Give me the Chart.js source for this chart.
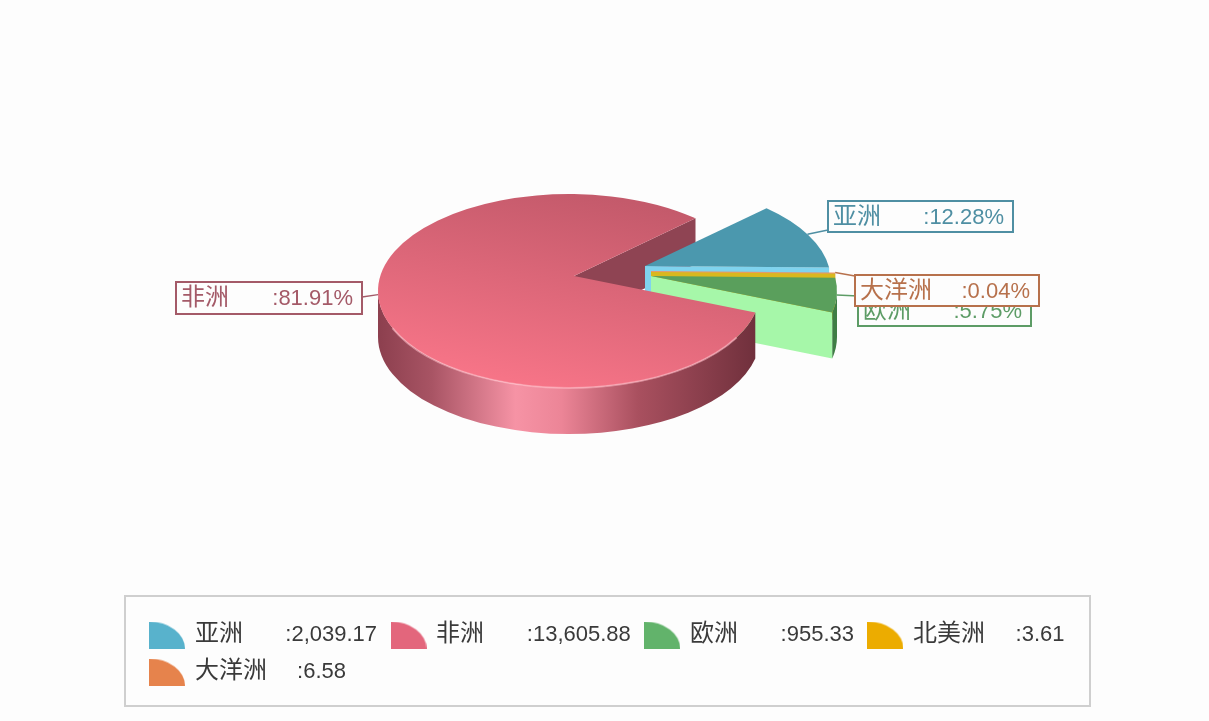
<!DOCTYPE html>
<html>
<head>
<meta charset="utf-8">
<title>各洲占比</title>
<script src="https://cdn.jsdelivr.net/npm/chart.js@4"></script>
<style>
  /* the source draws its Chinese a little larger than its digits */
  @font-face {
    font-family: "CJK Big";
    src: local("Noto Sans CJK SC"), local("Noto Sans CJK SC Regular");
    size-adjust: 109%;
    unicode-range: U+2E80-9FFF;
  }
  html, body { margin: 0; padding: 0; background: #fdfdfd; }
  canvas { display: block; }
</style>
</head>
<body>
<canvas id="pie3d" width="1209" height="721"></canvas>
<script>
const categories = ["亚洲", "非洲", "欧洲", "北美洲", "大洋洲"];
const seriesValues = [2039.17, 13605.88, 955.33, 3.61, 6.58];
const valueLabels = ["2,039.17", "13,605.88", "955.33", "3.61", "6.58"];
// the source pie runs counter-clockwise through the legend order
const sliceOrder = [0, 4, 3, 2, 1];

const legendColors = ["#58b2cc", "#e3667c", "#62b36b", "#ecac00", "#e6834c"];
const topColors = ["#4b98ae", null, "#5a9f5c", "#c9b02a", "#e08a55"];
const cutColors = ["#7fd3ee", "#8f4453", "#a6f7a9", "#d9b81e", "#e89a66"];
const wallColors = ["#3c7a8d", null, "#3f7d45", "#a98a10", "#b5693f"];
const labelColors = ["#4f8fa3", "#a45a68", "#5d9c66", "#b7714c", "#b7714c"];

const fontFamily = '"CJK Big", "Liberation Sans", "Noto Sans CJK SC", sans-serif';
const font = "22px " + fontFamily;
const centre = { x: 569, y: 291 };
const squash = 97 / 191;
const depth = 46;
const apex = { x: 5, y: -15 };  // where the centre lands after the tilt
// how far each slice is pulled out of the pie
const explode = [[71, -10], [0, 0], [77, 0], [77, -4], [77, -5]];
const labelBoxes = [
  [828, 201, 1013, 232],
  [176, 282, 362, 314],
  [858, 295, 1031, 326],
  null,
  [855, 275, 1039, 306]
];
const elbows = [[828, 230], [362, 297], [858, 296], null, [855, 276]];

const total = seriesValues.reduce((a, b) => a + b, 0);

// tilted disc: the rim angle moves because the centre is seen off-middle
function tilt(angle) {
  const kx = apex.x / 191, ky = apex.y / 97;
  const s = 1 + Math.sqrt(1 - kx * kx - ky * ky);
  const qx = kx / s, qy = ky / s;
  const zx = Math.cos(angle), zy = Math.sin(angle);
  const nx = zx + qx, ny = zy + qy;
  const dx = 1 + qx * zx + qy * zy, dy = qx * zy - qy * zx;
  return Math.atan2(ny * dx - nx * dy, nx * dx + ny * dy);
}

function sliceShape(arc, index) {
  const rx = arc.outerRadius;
  const ry = rx * squash;
  const cx = centre.x + explode[index][0];
  const cy = centre.y + explode[index][1];
  const t0 = tilt(arc.startAngle);
  let t1 = tilt(arc.endAngle);
  while (t1 <= t0) t1 += Math.PI * 2;
  const mid = tilt((arc.startAngle + arc.endAngle) / 2);
  return { rx, ry, cx, cy, t0, t1, mid, ax: cx + apex.x, ay: cy + apex.y };
}

function rimPoint(s, t) {
  return [s.cx + s.rx * Math.cos(t), s.cy + s.ry * Math.sin(t)];
}

function drawTop(ctx, s, fill) {
  ctx.beginPath();
  ctx.moveTo(s.ax, s.ay);
  ctx.ellipse(s.cx, s.cy, s.rx, s.ry, 0, s.t0, s.t1);
  ctx.closePath();
  ctx.fillStyle = fill;
  ctx.fill();
}

function drawCut(ctx, s, t, fill) {
  const p = rimPoint(s, t);
  ctx.beginPath();
  ctx.moveTo(s.ax, s.ay);
  ctx.lineTo(p[0], p[1]);
  ctx.lineTo(p[0], p[1] + depth);
  ctx.lineTo(s.ax, s.ay + depth);
  ctx.closePath();
  ctx.fillStyle = fill;
  ctx.fill();
}

function drawWall(ctx, s, fill) {
  const from = Math.max(s.t0, 0);
  const to = Math.min(s.t1, Math.PI);
  if (to <= from) return;
  ctx.beginPath();
  ctx.ellipse(s.cx, s.cy, s.rx, s.ry, 0, from, to);
  ctx.ellipse(s.cx, s.cy + depth, s.rx, s.ry, 0, to, from, true);
  ctx.closePath();
  ctx.fillStyle = fill;
  ctx.fill();
}

const pie3dPlugin = {
  id: "pie3d",
  beforeDatasetsDraw(chart) {
    const ctx = chart.ctx;
    const shapes = {};
    chart.getDatasetMeta(0).data.forEach((arc, i) => {
      shapes[sliceOrder[i]] = sliceShape(arc, sliceOrder[i]);
    });
    const red = shapes[1];

    // inside of the big slice, seen through the gap
    drawCut(ctx, red, red.t1, cutColors[1]);

    // pulled out slices, back to front
    [0, 4, 3, 2].forEach(i => {
      const s = shapes[i];
      drawCut(ctx, s, s.t1, cutColors[i]);
      drawWall(ctx, s, wallColors[i]);
      drawTop(ctx, s, topColors[i]);
    });

    const wall = ctx.createLinearGradient(red.cx - red.rx, 0, red.cx + red.rx, 0);
    wall.addColorStop(0, "#8c3f4e");
    wall.addColorStop(0.14, "#a85464");
    wall.addColorStop(0.36, "#f693a5");
    wall.addColorStop(0.48, "#ec8597");
    wall.addColorStop(0.68, "#a9505f");
    wall.addColorStop(1, "#6e2f3b");
    drawWall(ctx, red, wall);

    const top = ctx.createLinearGradient(590, 194, 550, 388);
    top.addColorStop(0, "#c45a6b");
    top.addColorStop(1, "#f67487");
    drawTop(ctx, red, top);

    // soft light along the front rim
    ctx.beginPath();
    ctx.ellipse(red.cx, red.cy, red.rx, red.ry, 0, Math.max(red.t0, 0.5), 2.75);
    ctx.strokeStyle = "rgba(255,190,200,0.55)";
    ctx.lineWidth = 2;
    ctx.stroke();

    drawLabels(ctx, shapes);
    return false;
  },
  afterDraw(chart) {
    const ctx = chart.ctx;
    ctx.strokeStyle = "#cfcfcf";
    ctx.lineWidth = 2;
    ctx.strokeRect(125, 596, 965, 110);
  }
};

function drawLabels(ctx, shapes) {
  ctx.font = font;
  ctx.textBaseline = "middle";
  [0, 1, 2, 4].forEach(i => {
    const s = shapes[i];
    const box = labelBoxes[i];
    const p = rimPoint(s, s.mid);
    ctx.beginPath();
    ctx.moveTo(p[0], p[1]);
    ctx.lineTo(elbows[i][0], elbows[i][1]);
    ctx.strokeStyle = labelColors[i];
    ctx.lineWidth = 1.5;
    ctx.stroke();

    ctx.fillStyle = "#fdfdfd";
    ctx.fillRect(box[0], box[1], box[2] - box[0], box[3] - box[1]);
    ctx.lineWidth = 2;
    ctx.strokeRect(box[0], box[1], box[2] - box[0], box[3] - box[1]);

    const share = (seriesValues[i] / total * 100).toFixed(2);
    const midY = (box[1] + box[3]) / 2 + 1;
    ctx.fillStyle = labelColors[i];
    ctx.textAlign = "left";
    ctx.fillText(categories[i], box[0] + 5, midY);
    ctx.textAlign = "right";
    ctx.fillText(":" + share + "%", box[2] - 9, midY);
  });
}

function makeSwatch(color) {
  const c = document.createElement("canvas");
  c.width = 36;
  c.height = 27;
  const g = c.getContext("2d");
  g.beginPath();
  g.moveTo(0, 27);
  g.lineTo(0, 0);
  g.ellipse(0, 27, 36, 27, 0, -Math.PI / 2, 0);
  g.closePath();
  g.fillStyle = color;
  g.fill();
  return c;
}

function legendText(i) {
  const gap = categories[i].length === 3 ? "     " : "       ";
  return categories[i] + gap + ":" + valueLabels[i];
}

function drawChart() {
  new Chart(document.getElementById("pie3d"), {
    type: "pie",
    data: {
      labels: sliceOrder.map(i => categories[i]),
      datasets: [{
        data: sliceOrder.map(i => seriesValues[i]),
        backgroundColor: sliceOrder.map(i => legendColors[i]),
        borderWidth: 0,
        radius: 191
      }]
    },
    options: {
      responsive: false,
      animation: false,
      events: [],
      rotation: 46.6,
      layout: { padding: { left: 135.5, right: 114, top: 10, bottom: 28 } },
      plugins: {
        tooltip: { enabled: false },
        legend: {
          position: "bottom",
          align: "start",
          labels: {
            usePointStyle: true,
            pointStyleWidth: 33,
            boxHeight: 22,
            padding: 15,
            font: { family: fontFamily, size: 22 },
            color: "#3a3a3a",
            generateLabels() {
              return categories.map((name, i) => ({
                text: legendText(i),
                pointStyle: makeSwatch(legendColors[i]),
                fontColor: "#3a3a3a",
                lineWidth: 0,
                hidden: false,
                index: i
              }));
            }
          }
        }
      }
    },
    plugins: [pie3dPlugin]
  });
}

document.fonts.load(font, "亚洲").then(drawChart, drawChart);
</script>
</body>
</html>
